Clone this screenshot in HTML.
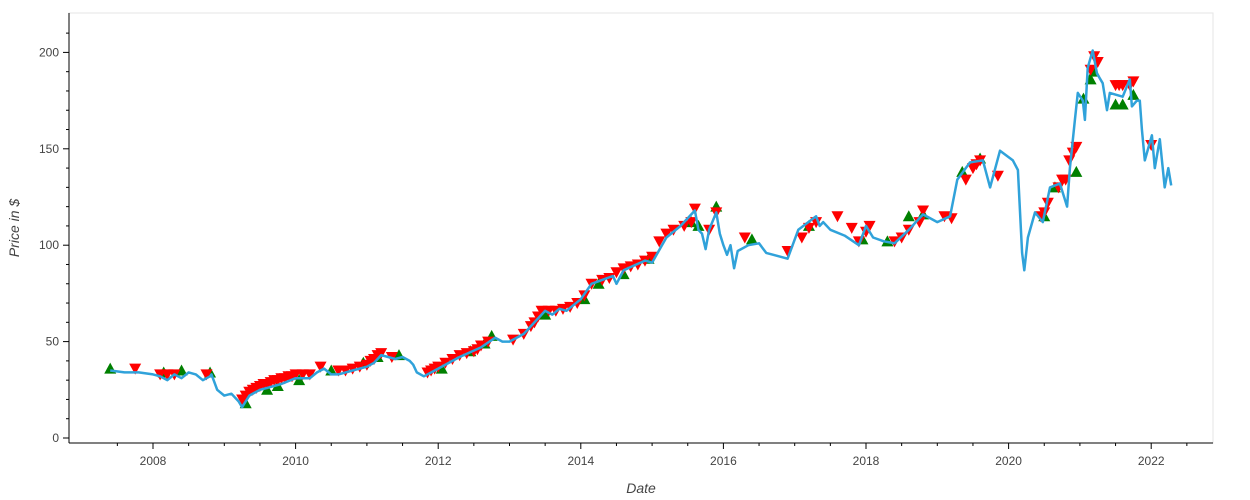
<!DOCTYPE html>
<html><head><meta charset="utf-8">
<style>
html,body{margin:0;padding:0;background:#fff;}
svg{display:block;font-family:"Liberation Sans",sans-serif;}
</style></head>
<body>
<svg id="chart" width="1250" height="500"></svg>
<script>
const dates=[2007.4,2007.6,2007.8,2008.0,2008.1,2008.2,2008.3,2008.4,2008.5,2008.6,2008.7,2008.8,2008.82,2008.9,2009.0,2009.1,2009.2,2009.25,2009.35,2009.5,2009.6,2009.8,2010.0,2010.2,2010.3,2010.4,2010.5,2010.6,2010.8,2011.0,2011.1,2011.2,2011.4,2011.5,2011.6,2011.65,2011.7,2011.8,2012.0,2012.3,2012.6,2012.8,2012.9,2013.0,2013.2,2013.4,2013.5,2013.6,2013.7,2013.8,2014.0,2014.15,2014.3,2014.45,2014.5,2014.6,2014.9,2015.0,2015.2,2015.4,2015.6,2015.65,2015.7,2015.75,2015.8,2015.9,2015.95,2016.0,2016.05,2016.1,2016.15,2016.2,2016.35,2016.5,2016.6,2016.7,2016.9,2017.05,2017.3,2017.35,2017.4,2017.5,2017.7,2017.9,2018.0,2018.1,2018.25,2018.4,2018.6,2018.8,2019.0,2019.18,2019.28,2019.46,2019.64,2019.74,2019.88,2020.06,2020.13,2020.19,2020.22,2020.27,2020.37,2020.48,2020.58,2020.72,2020.82,2020.86,2020.93,2020.97,2021.04,2021.07,2021.11,2021.18,2021.24,2021.32,2021.38,2021.42,2021.6,2021.7,2021.73,2021.8,2021.84,2021.87,2021.91,2022.01,2022.05,2022.12,2022.19,2022.24,2022.28];
const prices=[35,34,34,33,32,30,33,31,34,33,30,32,33,25,22,23,19,16,22,25,26,28,31,31,34,36,33,33,35,37,39,43,41,42,40,38,34,32,36,42,47,52,50,50,54,62,66,64,67,66,72,80,82,84,80,87,92,91,104,110,118,108,106,98,108,117,106,100,95,100,88,97,100,101,96,95,93,108,115,110,112,108,105,100,110,104,102,101,108,116,112,115,134,143,144,130,149,144,139,96,87,104,117,112,130,132,120,140,165,179,175,165,192,201,189,184,170,179,177,186,172,175,175,160,144,157,140,155,130,140,131];
const sellDates=[2007.75,2008.1,2008.2,2008.3,2008.75,2009.25,2009.3,2009.35,2009.4,2009.45,2009.5,2009.55,2009.6,2009.65,2009.7,2009.75,2009.8,2009.85,2009.9,2009.95,2010.0,2010.1,2010.2,2010.35,2010.6,2010.7,2010.8,2010.9,2011.0,2011.05,2011.1,2011.15,2011.2,2011.35,2011.85,2011.9,2011.95,2012.0,2012.1,2012.2,2012.3,2012.4,2012.5,2012.55,2012.6,2012.7,2013.05,2013.2,2013.3,2013.35,2013.4,2013.45,2013.55,2013.65,2013.75,2013.85,2013.95,2014.05,2014.15,2014.3,2014.4,2014.5,2014.6,2014.7,2014.8,2014.9,2015.0,2015.1,2015.2,2015.3,2015.45,2015.55,2015.6,2015.8,2015.9,2016.3,2016.9,2017.1,2017.2,2017.3,2017.6,2017.8,2017.9,2018.0,2018.05,2018.4,2018.5,2018.6,2018.75,2018.8,2019.1,2019.2,2019.4,2019.5,2019.55,2019.6,2019.85,2020.45,2020.5,2020.55,2020.7,2020.75,2020.8,2020.85,2020.9,2020.95,2021.15,2021.2,2021.25,2021.5,2021.55,2021.6,2021.7,2021.75,2022.0];
const sellPrices=[36,33,33,33,33,20,22,24,25,26,27,28,28,29,30,30,31,31,32,32,33,33,33,37,35,35,36,37,38,40,41,43,44,42,34,35,36,37,39,41,43,44,45,46,48,50,51,54,58,60,63,66,66,66,67,68,70,74,80,82,83,86,88,89,90,92,94,102,106,108,110,112,119,108,117,104,97,104,109,112,115,109,102,107,110,102,104,108,112,118,115,114,134,140,142,144,136,115,117,122,130,134,134,144,148,151,191,198,195,183,183,183,183,185,152];
const buyDates=[2007.4,2008.15,2008.4,2008.8,2009.3,2009.6,2009.75,2010.05,2010.5,2010.95,2011.15,2011.45,2012.05,2012.45,2012.65,2012.75,2013.5,2014.05,2014.25,2014.6,2014.95,2015.55,2015.65,2015.9,2016.4,2017.2,2017.95,2018.3,2018.6,2018.8,2019.35,2019.6,2020.5,2020.65,2020.95,2021.05,2021.15,2021.2,2021.5,2021.6,2021.75];
const buyPrices=[36,34,35,34,18,25,27,30,35,39,42,43,36,45,49,53,64,72,80,85,93,112,110,120,103,110,103,102,115,116,138,145,115,130,138,176,186,190,173,173,178];
const yTicks=[0,50,100,150,200];
const xTicks=[2008,2010,2012,2014,2016,2018,2020,2022];

const NS="http://www.w3.org/2000/svg";
const svg=document.getElementById('chart');
const L=69,R=1213,T=13,B=443;
const xs=v=>153+(v-2008)*71.3;
const ys=v=>438-v*1.928;
function mk(tag,attrs,parent){const e=document.createElementNS(NS,tag);for(const k in attrs)e.setAttribute(k,attrs[k]);(parent||svg).appendChild(e);return e;}

const frame=mk('rect',{x:L,y:T,width:R-L,height:B-T,fill:'none',stroke:'#e5e5e5','stroke-width':1});



const gy=mk('g',{});


mk('line',{x1:L,y1:T,x2:L,y2:B,stroke:'#000','stroke-width':1},gy);
for(let v=0;v<=210;v+=10){const maj=v%50===0;mk('line',{x1:L-(maj?6:3),x2:L,y1:ys(v),y2:ys(v),stroke:'#000'},gy);}
yTicks.forEach(v=>{const t=mk('text',{x:L-10,y:ys(v)+4,'text-anchor':'end','font-size':12,fill:'#444'},gy);t.textContent=v;

});

const gx=mk('g',{});


mk('line',{x1:L,y1:B,x2:R,y2:B,stroke:'#000'},gx);
xTicks.forEach(v=>{mk('line',{x1:xs(v),x2:xs(v),y1:B,y2:B+6,stroke:'#000'},gx);
const t=mk('text',{x:xs(v),y:B+22,'text-anchor':'middle','font-size':12,fill:'#444'},gx);t.textContent=v;

});
for(let v=2007.5;v<2022.9;v+=0.5){if(v%2!==0)mk('line',{x1:xs(v),x2:xs(v),y1:B,y2:B+3,stroke:'#000'},gx);}

const xt=mk('text',{x:641,y:493,'text-anchor':'middle','font-size':14,'font-style':'italic',fill:'#444'});xt.textContent='Date';


const yt=mk('text',{x:19,y:228,'text-anchor':'middle','font-size':14,'font-style':'italic',fill:'#444',transform:'rotate(-90 19 228)'});yt.textContent='Price in $';



const gb=mk('g',{});


buyDates.forEach((d,i)=>{const x=xs(d),y=ys(buyPrices[i]);
const p=mk('path',{d:`M${x-6},${y+5}L${x+6},${y+5}L${x},${y-6}Z`,fill:'#008000'},gb);

});

const gs=mk('g',{});


sellDates.forEach((d,i)=>{const x=xs(d),y=ys(sellPrices[i]);
const p=mk('path',{d:`M${x-6},${y-5}L${x+6},${y-5}L${x},${y+6}Z`,fill:'#ff0000'},gs);

});

const line=mk('path',{d:dates.map((d,i)=>(i?'L':'M')+xs(d).toFixed(1)+','+ys(prices[i]).toFixed(1)).join(''),fill:'none',stroke:'#30a2da','stroke-width':2.5,'stroke-linejoin':'round'});


</script>
</body></html>
